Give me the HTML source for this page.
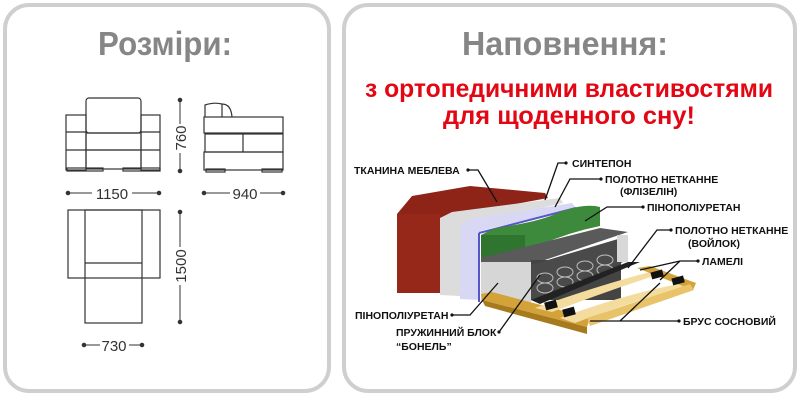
<!DOCTYPE html>
<html><head><meta charset="utf-8"><style>
html,body{margin:0;padding:0;background:#fff;}
svg{display:block;}
text{font-family:"Liberation Sans",Arial,sans-serif;}
</style></head><body>
<svg width="800" height="400" viewBox="0 0 800 400" xmlns="http://www.w3.org/2000/svg">
<rect x="0" y="0" width="800" height="400" fill="#fff"/>
<rect x="5" y="5" width="324" height="386" rx="24" fill="#fff" stroke="#cfcfcf" stroke-width="4"/>
<rect x="344" y="5" width="451" height="386" rx="24" fill="#fff" stroke="#cfcfcf" stroke-width="4"/>
<text x="165" y="55" font-size="33" font-weight="bold" fill="#868686" text-anchor="middle" textLength="134" lengthAdjust="spacingAndGlyphs">Розміри:</text>
<text x="565" y="55" font-size="33" font-weight="bold" fill="#868686" text-anchor="middle" textLength="206" lengthAdjust="spacingAndGlyphs">Наповнення:</text>
<text x="569" y="97" font-size="25" font-weight="bold" fill="#e30613" text-anchor="middle" textLength="408" lengthAdjust="spacingAndGlyphs">з ортопедичними властивостями</text>
<text x="569" y="124" font-size="25" font-weight="bold" fill="#e30613" text-anchor="middle" textLength="252" lengthAdjust="spacingAndGlyphs">для щоденного сну!</text>

<g fill="none" stroke="#333" stroke-width="1.2">
<rect x="86" y="98" width="55" height="35" rx="3"/>
<rect x="66" y="115" width="20" height="55"/>
<line x1="66" y1="132" x2="86" y2="132"/><line x1="66" y1="150" x2="86" y2="150"/>
<rect x="141" y="115" width="19" height="55"/>
<line x1="141" y1="132" x2="160" y2="132"/><line x1="141" y1="150" x2="160" y2="150"/>
<rect x="86" y="133" width="55" height="17"/>
<rect x="86" y="150" width="55" height="19"/>
<rect x="67" y="168" width="36" height="3"/><rect x="123" y="168" width="37" height="3"/>
<path d="M205 117 V105 Q214 102 222 104 Q231 104 232 117"/>
<line x1="222" y1="104" x2="222" y2="117"/>
<rect x="204" y="117" width="79" height="16"/>
<rect x="205" y="134" width="78" height="18"/>
<line x1="243" y1="134" x2="243" y2="152"/>
<rect x="204" y="152" width="79" height="18"/>
<rect x="206" y="169" width="19" height="3"/><rect x="262" y="169" width="20" height="3"/>
<rect x="68" y="210" width="92" height="68"/>
<rect x="85" y="210" width="57" height="113"/>
<line x1="85" y1="263" x2="142" y2="263"/>
</g>
<g stroke="#333" stroke-width="1" fill="#333">
<line x1="180" y1="100" x2="180" y2="124"/><line x1="180" y1="153" x2="180" y2="171"/>
<circle cx="180" cy="100" r="1.8"/><circle cx="180" cy="171" r="1.8"/>
<line x1="180" y1="212" x2="180" y2="247"/><line x1="180" y1="285" x2="180" y2="322"/>
<circle cx="180" cy="212" r="1.8"/><circle cx="180" cy="322" r="1.8"/>
<line x1="68" y1="193" x2="92" y2="193"/><line x1="132" y1="193" x2="159" y2="193"/>
<circle cx="68" cy="193" r="1.8"/><circle cx="159" cy="193" r="1.8"/>
<line x1="204" y1="193" x2="230" y2="193"/><line x1="260" y1="193" x2="283" y2="193"/>
<circle cx="204" cy="193" r="1.8"/><circle cx="283" cy="193" r="1.8"/>
<line x1="84" y1="345" x2="100" y2="345"/><line x1="129" y1="345" x2="142" y2="345"/>
<circle cx="84" cy="345" r="1.8"/><circle cx="142" cy="345" r="1.8"/>
</g>
<g font-size="15" fill="#333">
<text x="112" y="199" text-anchor="middle">1150</text>
<text x="245" y="199" text-anchor="middle">940</text>
<text x="114" y="351" text-anchor="middle">730</text>
<text transform="translate(186,138) rotate(-90)" text-anchor="middle">760</text>
<text transform="translate(186,266) rotate(-90)" text-anchor="middle">1500</text>
</g>

<!-- mattress -->
<polygon points="397,214 412,196 470,186 545,193 548,198 440,218 440,293 397,293" fill="#8e2318"/>
<polygon points="397,214 440,214 440,293 397,293" fill="#962819"/>
<polygon points="440,218 452,212 560,198 563,203 460,226 460,296 440,295" fill="#dcdcdc"/>
<polygon points="460,226 470,219 572,203 576,208 480,231 480,300 460,299" fill="#d8d8f4"/>
<line x1="479" y1="233" x2="479" y2="302" stroke="#5656c8" stroke-width="2"/>
<line x1="479" y1="233" x2="576" y2="208" stroke="#5656c8" stroke-width="2"/>
<path d="M481 235 L495 228 Q540 222 560 212 Q585 203 600 207 L600 226 Q570 232 540 245 Q520 253 525 258 L481 258 Z" fill="#3e8a3c"/>
<path d="M481 235 L525 235 L525 258 L481 258 Z" fill="#2f7530"/>
<polygon points="481,258 600,228 628,232 530,265 481,262" fill="#5a5a5a"/>
<rect x="481" y="262" width="50" height="40" fill="#d6d6d6"/>
<rect x="531" y="260" width="90" height="40" fill="#444"/>
<polygon points="531,265 628,236 628,260 531,300" fill="#4a4a4a"/>
<rect x="617" y="235" width="11" height="27" fill="#d8d8d8"/>
<g fill="none" stroke="#bbb" stroke-width="1">
<ellipse cx="545" cy="278" rx="8" ry="5"/><ellipse cx="545" cy="288" rx="8" ry="5"/>
<ellipse cx="565" cy="272" rx="8" ry="5"/><ellipse cx="565" cy="282" rx="8" ry="5"/>
<ellipse cx="585" cy="266" rx="8" ry="5"/><ellipse cx="585" cy="276" rx="8" ry="5"/>
<ellipse cx="605" cy="260" rx="8" ry="5"/><ellipse cx="605" cy="270" rx="8" ry="5"/>
</g>
<polygon points="531,300 628,262 640,262 540,304" fill="#222"/>
<polygon points="481,294 492,292 590,318 587,327 482,300" fill="#d3a33a"/>
<polygon points="482,300 587,327 587,334 485,306" fill="#a87a1e"/>
<path d="M535 308 Q600 285 650 272 L660 274 Q610 290 552 312 Z" fill="#f3dc9e"/>
<path d="M560 318 Q630 292 690 282 L690 287 Q640 298 575 323 Z" fill="#f3dc9e"/>
<polygon points="637,268 650,266 696,283 693,290" fill="#d3a33a"/>
<polygon points="587,318 690,284 694,290 590,326" fill="#e8c36a"/>
<rect x="545" y="301" width="12" height="8" fill="#111" transform="rotate(-15 551 305)"/>
<rect x="563" y="308" width="12" height="8" fill="#111" transform="rotate(-15 569 312)"/>
<rect x="651" y="271" width="12" height="7" fill="#111" transform="rotate(-15 657 274)"/>
<rect x="672" y="277" width="12" height="7" fill="#111" transform="rotate(-15 678 280)"/>

<g fill="none" stroke="#111" stroke-width="1.3">
<path d="M468 170 L478 170 L497 202"/>
<path d="M566 163 L558 163 L545 200"/>
<path d="M601 179 L570 179 L555 207"/>
<path d="M643 207 L607 207 L585 221"/>
<path d="M671 230 L657 230 L628 268"/>
<path d="M698 261 L680 261 L640 270 M680 261 L660 280"/>
<path d="M452 315 L470 315 L498 283"/>
<path d="M499 332 L540 275"/>
<path d="M679 321 L620 321 L660 283 M620 321 L590 321"/>
</g>
<g fill="#111">
<circle cx="468" cy="170" r="1.6"/><circle cx="566" cy="163" r="1.6"/><circle cx="601" cy="179" r="1.6"/>
<circle cx="643" cy="207" r="1.6"/><circle cx="671" cy="230" r="1.6"/><circle cx="698" cy="261" r="1.6"/>
<circle cx="452" cy="315" r="1.6"/><circle cx="499" cy="332" r="1.6"/><circle cx="679" cy="321" r="1.6"/>
</g>
<g font-size="10.5" font-weight="bold" fill="#111">
<text x="354" y="174">ТКАНИНА МЕБЛЕВА</text>
<text x="572" y="167">СИНТЕПОН</text>
<text x="605" y="183">ПОЛОТНО НЕТКАННЕ</text>
<text x="620" y="195">(ФЛІЗЕЛІН)</text>
<text x="647" y="211">ПІНОПОЛІУРЕТАН</text>
<text x="675" y="234">ПОЛОТНО НЕТКАННЕ</text>
<text x="688" y="247">(ВОЙЛОК)</text>
<text x="702" y="265">ЛАМЕЛІ</text>
<text x="355" y="319">ПІНОПОЛІУРЕТАН</text>
<text x="396" y="336">ПРУЖИННИЙ БЛОК</text>
<text x="396" y="350">“БОНЕЛЬ”</text>
<text x="683" y="325">БРУС СОСНОВИЙ</text>
</g>
</svg>
</body></html>
